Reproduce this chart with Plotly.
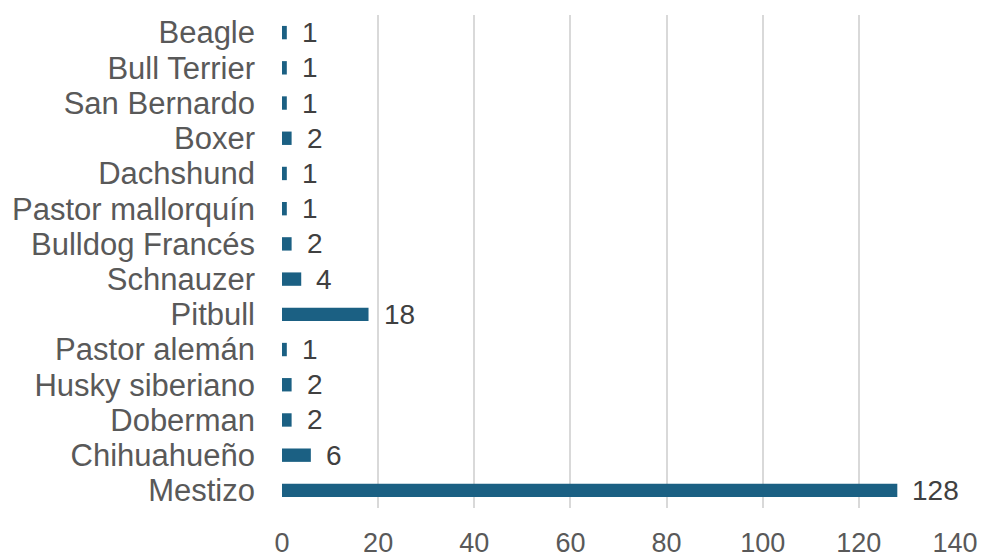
import plotly.graph_objects as go

# Breeds listed bottom-to-top as they appear on the y axis
breeds = ["Mestizo", "Chihuahueño", "Doberman", "Husky siberiano", "Pastor alemán",
          "Pitbull", "Schnauzer", "Bulldog Francés", "Pastor mallorquín", "Dachshund",
          "Boxer", "San Bernardo", "Bull Terrier", "Beagle"]
counts = [128, 6, 2, 2, 1, 18, 4, 2, 1, 1, 2, 1, 1, 1]
x_ticks = [0, 20, 40, 60, 80, 100, 120, 140]

BAR = "#1B6083"
FONT = "Liberation Sans, Arial, sans-serif"

fig = go.Figure()
fig.add_trace(go.Bar(
    x=counts, y=breeds, orientation="h",
    marker=dict(color=BAR, line=dict(width=0)),
    hoverinfo="x+y",
))

# Value labels just past the end of each bar
for b, c in zip(breeds, counts):
    fig.add_annotation(
        x=c, y=b, text=str(c), showarrow=False,
        xanchor="left", yanchor="middle", xshift=13,
        font=dict(family=FONT, size=28, color="#404040"),
    )

fig.update_layout(
    width=983, height=559,
    margin=dict(l=282, r=28, t=15, b=51),
    paper_bgcolor="white", plot_bgcolor="white",
    bargap=0.62, showlegend=False,
    font=dict(family=FONT, size=24, color="#595959"),
)
fig.update_xaxes(
    range=[0, 140], tickmode="array", tickvals=x_ticks,
    ticktext=[str(v) for v in x_ticks],
    showgrid=True, gridcolor="#D9D9D9", gridwidth=1.5,
    zeroline=False, showline=False, ticks="",
    automargin=False, ticklabelstandoff=16,
    tickfont=dict(family=FONT, size=27, color="#595959"),
)
fig.update_yaxes(
    categoryorder="array", categoryarray=breeds,
    tickmode="array", tickvals=breeds, ticktext=breeds,
    showgrid=False, zeroline=False, showline=False, ticks="",
    automargin=False, ticklabelstandoff=26,
    tickfont=dict(family=FONT, size=31, color="#595959"),
)

fig.write_html("out.html")
